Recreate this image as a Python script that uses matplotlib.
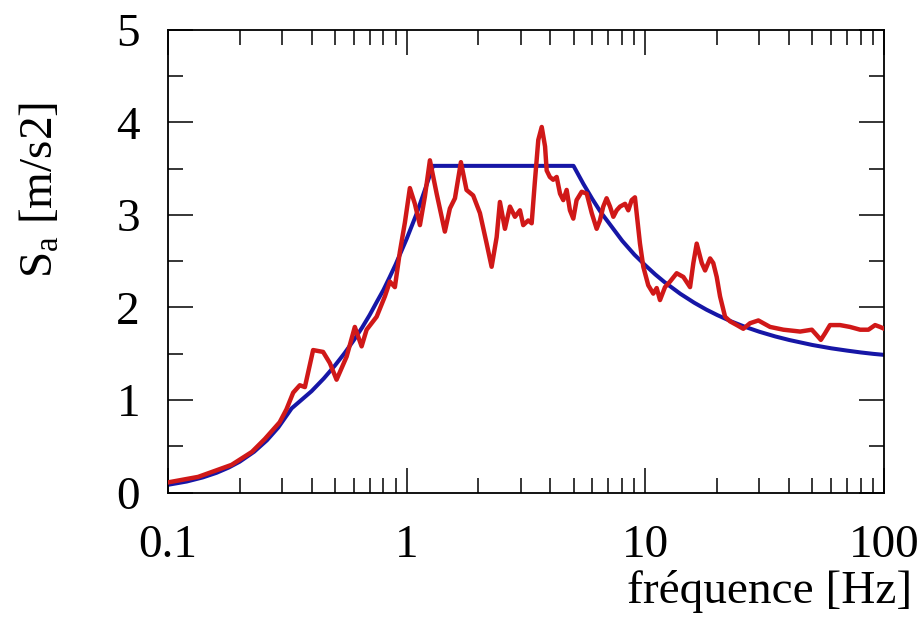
import matplotlib
matplotlib.use("Agg")
import matplotlib.pyplot as plt
from matplotlib.ticker import FixedLocator, FixedFormatter, LogLocator, MultipleLocator, NullFormatter

# design spectrum (blue)
f_design = [0.10, 0.12, 0.14, 0.16, 0.18, 0.20, 0.23, 0.26, 0.29, 0.33,
            0.40, 0.45, 0.50, 0.55, 0.60, 0.65, 0.70, 0.75, 0.80, 0.85,
            0.90, 1.00, 1.10, 1.20, 1.29, 5.00, 5.5, 6.0, 6.5, 7.0,
            8.0, 9.0, 10.0, 11.0, 12.0, 14.0, 16.0, 18.0, 20.0, 23.0,
            26.0, 30.0, 35.0, 40.0, 50.0, 60.0, 70.0, 80.0, 90.0, 100.0]
sa_design = [0.084, 0.120, 0.164, 0.214, 0.271, 0.334, 0.442, 0.565, 0.703, 0.91,
             1.096, 1.233, 1.37, 1.507, 1.644, 1.78, 1.918, 2.06, 2.19, 2.33,
             2.466, 2.74, 3.01, 3.29, 3.53, 3.53, 3.335, 3.17, 3.03, 2.92,
             2.72, 2.57, 2.455, 2.357, 2.276, 2.148, 2.052, 1.977, 1.918, 1.847,
             1.793, 1.738, 1.687, 1.649, 1.595, 1.559, 1.534, 1.514, 1.499, 1.488]

# response spectrum of the record (red)
f_record = [0.100, 0.134, 0.185, 0.225, 0.255, 0.294, 0.314, 0.335, 0.357, 0.375, 0.406,
            0.447, 0.477, 0.509, 0.561, 0.607, 0.648, 0.680, 0.749, 0.811, 0.851,
            0.893, 0.937, 0.984, 1.032, 1.083, 1.137, 1.193, 1.252, 1.336, 1.446,
            1.518, 1.594, 1.688, 1.782, 1.900, 2.028, 2.164, 2.270, 2.383, 2.459,
            2.581, 2.709, 2.843, 2.983, 3.079, 3.23, 3.34, 3.44, 3.56, 3.68,
            3.80, 3.86, 3.98, 4.11, 4.25, 4.39, 4.53, 4.68, 4.83, 4.99,
            5.15, 5.41, 5.68, 5.96, 6.25, 6.45, 6.66, 6.88, 7.11, 7.34,
            7.58, 7.83, 8.22, 8.48, 8.76, 9.04, 9.19, 9.49, 9.80, 10.28,
            10.79, 11.15, 11.51, 12.08, 12.68, 13.52, 14.42, 15.38, 15.88, 16.40,
            17.22, 17.78, 18.66, 19.24, 19.89, 20.54, 21.56, 22.63, 24.15, 25.70,
            27.42, 29.72, 33.27, 37.84, 44.46, 49.77, 52.22, 54.29, 56.5, 59.3,
            65.3, 71.9, 79.3, 85.9, 91.6, 96.1, 100.0]
sa_record = [0.11, 0.17, 0.30, 0.44, 0.58, 0.76, 0.90, 1.08, 1.16, 1.14, 1.54,
             1.52, 1.40, 1.22, 1.47, 1.79, 1.58, 1.76, 1.90, 2.12, 2.28,
             2.22, 2.60, 2.92, 3.29, 3.12, 2.89, 3.20, 3.59, 3.23, 2.82,
             3.07, 3.18, 3.57, 3.27, 3.21, 3.02, 2.69, 2.44, 2.76, 3.14,
             2.85, 3.09, 2.98, 3.05, 2.89, 2.94, 2.91, 3.34, 3.81, 3.95,
             3.74, 3.48, 3.41, 3.38, 3.41, 3.23, 3.16, 3.27, 3.05, 2.96,
             3.16, 3.25, 3.23, 3.02, 2.85, 2.94, 3.09, 3.18, 3.09, 2.98,
             3.05, 3.09, 3.12, 3.05, 3.16, 3.19, 3.02, 2.69, 2.44, 2.24,
             2.15, 2.21, 2.08, 2.22, 2.28, 2.37, 2.33, 2.22, 2.48, 2.69,
             2.48, 2.40, 2.53, 2.48, 2.33, 2.12, 1.90, 1.85, 1.81, 1.77,
             1.83, 1.86, 1.79, 1.76, 1.74, 1.76, 1.70, 1.65, 1.72, 1.81,
             1.81, 1.79, 1.76, 1.76, 1.81, 1.79, 1.77]

x_ticks = [0.1, 1, 10, 100]
x_ticklabels = ["0.1", "1", "10", "100"]

plt.rcParams["font.family"] = ["Liberation Serif", "DejaVu Serif"]
plt.rcParams["mathtext.fontset"] = "custom"
plt.rcParams["mathtext.rm"] = "Liberation Serif"
plt.rcParams["mathtext.it"] = "Liberation Serif:italic"

fig = plt.figure(figsize=(9.22, 6.34), dpi=100)
ax = fig.add_axes([0.182, 0.223, 0.777, 0.730])

ax.plot(f_design, sa_design, color="#1616a6", lw=2.9, zorder=2)
ax.plot(f_record, sa_record, color="#d01818", lw=3.2, zorder=3)

ax.set_xscale("log")
ax.set_xlim(0.1, 100)
ax.set_ylim(0, 5)

ax.xaxis.set_major_locator(FixedLocator(x_ticks))
ax.xaxis.set_major_formatter(FixedFormatter(x_ticklabels))
ax.xaxis.set_minor_locator(LogLocator(base=10, subs=range(2, 10)))
ax.xaxis.set_minor_formatter(NullFormatter())
ax.yaxis.set_major_locator(MultipleLocator(1))
ax.yaxis.set_minor_locator(MultipleLocator(0.5))

ax.tick_params(which="both", direction="in", top=True, right=True,
               width=1.1, labelsize=34, pad=20)
ax.tick_params(axis="x", which="major", pad=23)
ax.tick_params(which="major", length=18)
ax.tick_params(which="minor", length=11)
for s in ax.spines.values():
    s.set_linewidth(1.3)

ax.set_ylabel(r"S$_\mathrm{a}$ [m/s2]", fontsize=34)
ax.yaxis.set_label_coords(-0.147, 0.654)
ax.set_xlabel("fréquence [Hz]", fontsize=34, ha="right")
ax.xaxis.set_label_coords(1.039, -0.168)

fig.savefig("out.png", dpi=100)
